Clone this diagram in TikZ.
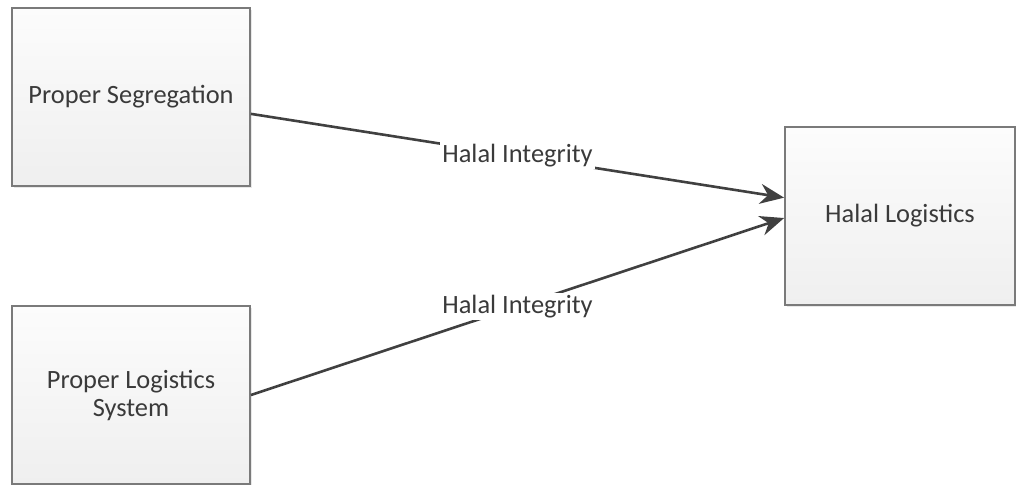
\documentclass[tikz,border=0pt]{standalone}
\usepackage{fontspec}
\setmainfont{Carlito}
\usetikzlibrary{arrows.meta,shadows}

\definecolor{boxline}{HTML}{7A7A7A}
\definecolor{boxtop}{HTML}{FCFCFC}
\definecolor{boxbot}{HTML}{EFEFEF}
\definecolor{ink}{HTML}{3A3A3A}
\definecolor{wire}{HTML}{404040}

\begin{document}
\begin{tikzpicture}[x=0.5pt, y=-0.5pt,
    every node/.style={font=\fontsize{13.2}{14}\selectfont, text=ink},
    block/.style={draw=boxline, line width=0.9pt, top color=boxtop, bottom color=boxbot,
        minimum width=119pt, minimum height=89pt, align=center,
        drop shadow={opacity=0.18, shadow xshift=1pt, shadow yshift=-1pt}},
    link/.style={draw=wire, line width=1.3pt, -{Stealth[length=12pt, width=10pt]}},
    tag/.style={fill=white, inner sep=1pt}]
\useasboundingbox (0,0) rectangle (1016,484);

    \node[block] (seg) at (131,97) {Proper Segregation};
    \node[block] (sys) at (131,395) {Proper Logistics\\System};
    \node[block, minimum width=115pt] (logi) at (900,216) {Halal Logistics};

    \draw[link] (seg.-8.6) -- node[tag] {Halal Integrity} (logi.171.1);
    \draw[link] (sys.east) -- node[tag] {Halal Integrity} (logi.181);
\end{tikzpicture}
\end{document}
